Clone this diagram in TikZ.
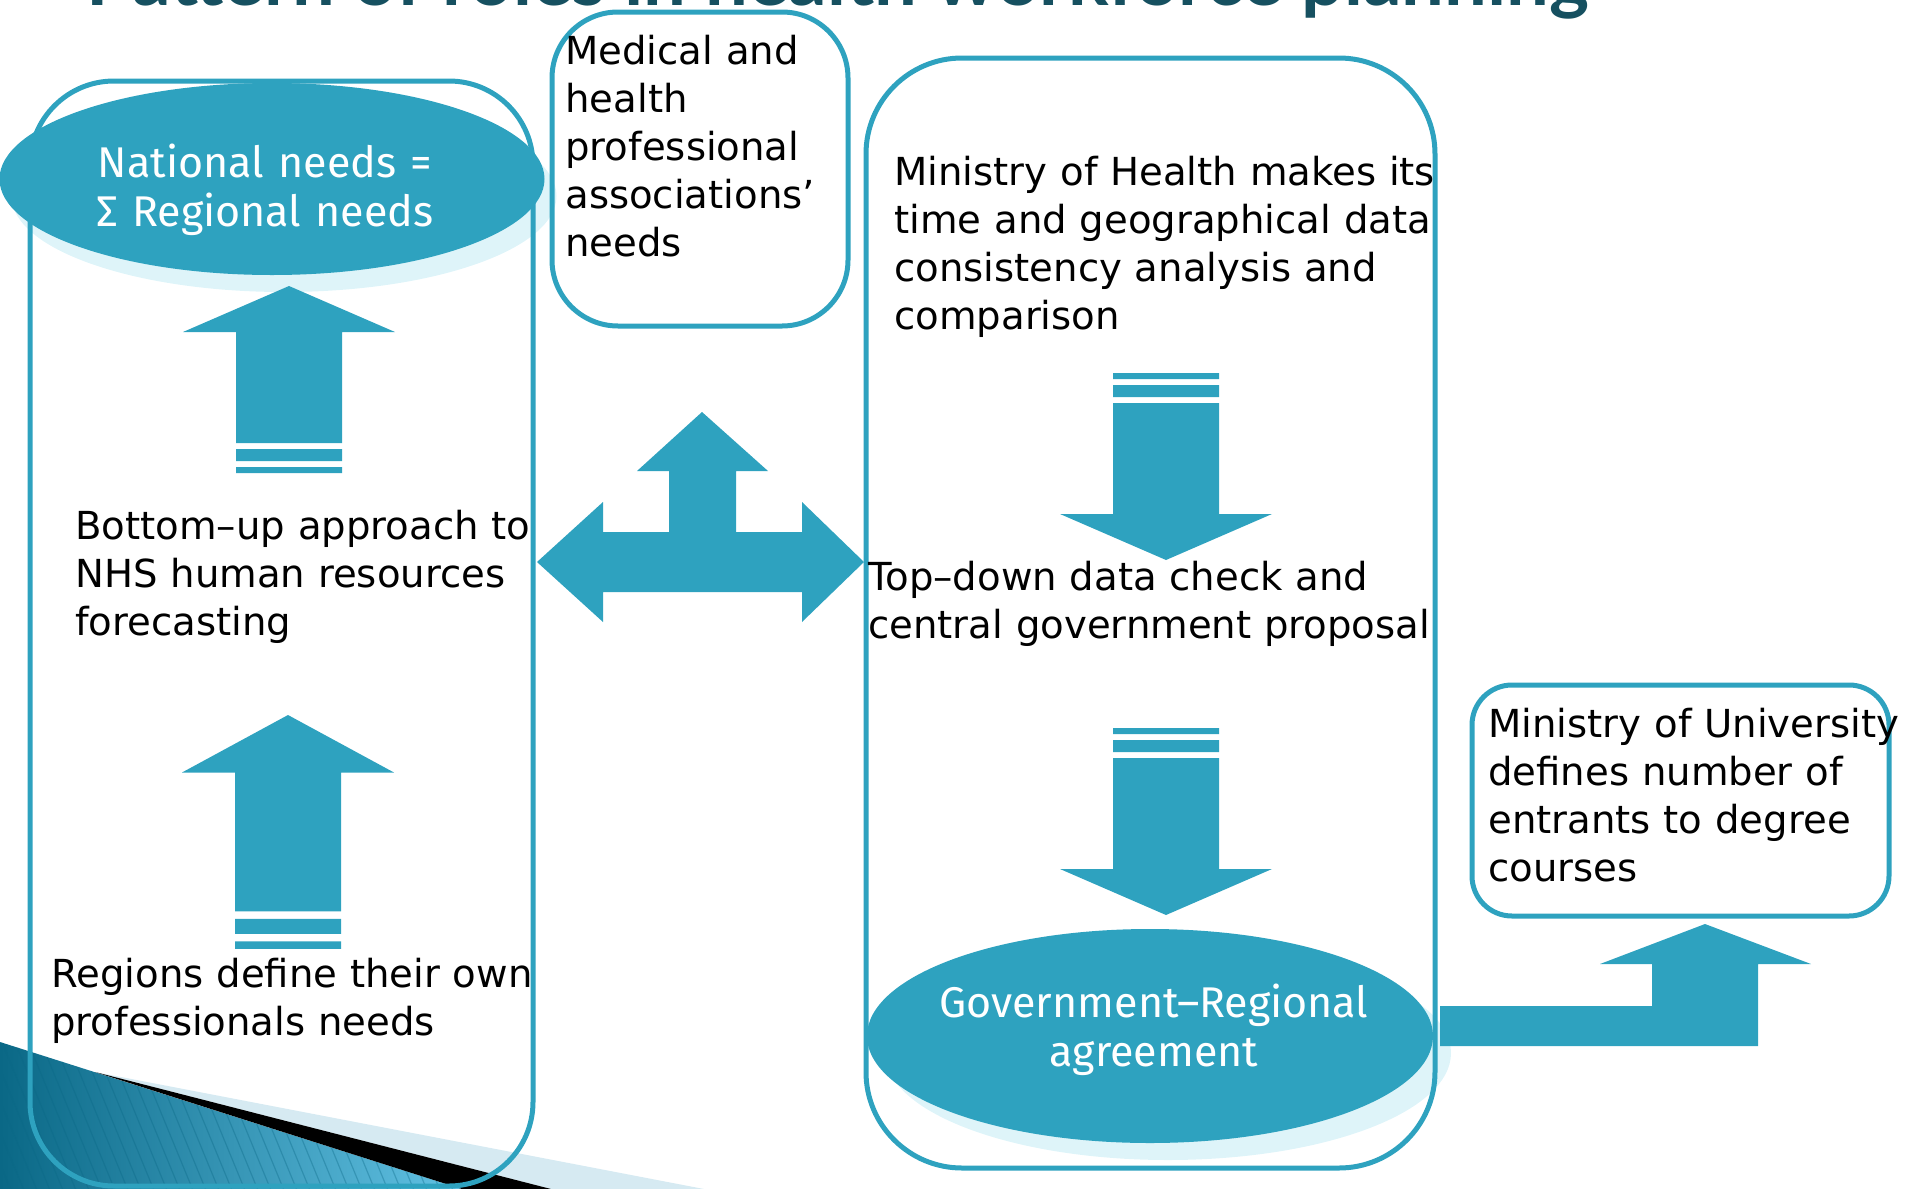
\documentclass[tikz,border=0pt]{standalone}
\usepackage{fontspec}
\setmainfont{DejaVu Sans}
\newfontfamily\bubblefont{Fira Sans}
\newfontfamily\headfont{Lato}
\usetikzlibrary{shapes.geometric,fit}

\definecolor{flowteal}{RGB}{46,162,191}
\definecolor{haze}{RGB}{222,244,249}
\definecolor{titleteal}{RGB}{22,80,96}
\definecolor{decodark}{RGB}{10,104,134}
\definecolor{decolight}{RGB}{98,194,228}
\definecolor{decoband}{RGB}{214,234,242}

\tikzset{
  panel/.style={draw=flowteal, line width=2.5pt, rounded corners=#1, inner sep=0pt},
  bubble/.style={ellipse, fill=flowteal, inner sep=0pt},
  glow/.style={ellipse, fill=haze, inner sep=0pt},
  bubbletext/.style={anchor=base, inner sep=0pt, text width=#1, align=center, text=white,
    font=\bubblefont\fontsize{21.5pt}{24.5pt}\selectfont},
  bodytext/.style={anchor=base west, inner sep=0pt, text width=300pt, align=left,
    font=\fontsize{19.3pt}{24pt}\selectfont},
  stripeup/.pic={
    \fill[flowteal] (0,0) -- (106,46) -- (53,46) -- (53,157) -- (-53,157)
      -- (-53,46) -- (-106,46) -- cycle;
    \fill[flowteal] (-53,163) rectangle (53,175) (-53,181) rectangle (53,187);
  }
}

\begin{document}
\begin{tikzpicture}[x=0.5pt, y=-0.5pt]
  \useasboundingbox (0,0) rectangle (1907,1189);
  \clip (0,0) rectangle (1907,1189);

  % corner swoosh
  \shade[left color=decodark, right color=decolight] (0,1042) -- (462,1189) -- (0,1189) -- cycle;
  \begin{scope}
    \clip (0,1042) -- (462,1189) -- (0,1189) -- cycle;
    \foreach \k in {-120,-107,...,480}
      \draw[decodark, opacity=.35, line width=.6pt] (\k,1030) -- ++(70,170);
  \end{scope}
  \fill[decoband] (95,1072) -- (704,1189) -- (551,1189) -- cycle;
  \fill[black] (95,1072) -- (551,1189) -- (462,1189) -- cycle;

  % title, cut off by the page edge
  \node[anchor=base west, inner sep=0pt, text=titleteal,
    font=\headfont\bfseries\fontsize{38pt}{44pt}\selectfont] (title) at (86,5)
    {Pattern of roles in health workforce planning};

  % shadows under the bubbles
  \node[glow, minimum width=272.5pt, minimum height=96pt] (natlglow) at (284,196) {};
  \node[glow, minimum width=283pt, minimum height=107pt] (agreeglow) at (1168,1053) {};

  % frames
  \node[panel=42pt, fit={(30,81) (533,1186)}] (regional) {};
  \node[panel=33pt, fit={(552,12) (848,326)}] (assoc) {};
  \node[panel=48pt, fit={(866,58) (1435,1168)}] (central) {};
  \node[panel=20pt, fit={(1472,685) (1889,916)}] (university) {};

  % bubbles
  \node[bubble, minimum width=272.5pt, minimum height=96pt] (natl) at (272,179) {};
  \node[bubble, minimum width=283pt, minimum height=107pt] (agree) at (1150,1036) {};
  \node[bubbletext=200pt] (natltext) at (265,177) {National needs =\\ Σ Regional needs};
  \node[bubbletext=260pt] (agreetext) at (1154,1017) {Government–Regional\\ agreement};

  % block arrows
  \pic at (289,286) {stripeup};
  \pic[yscale=1.25] at (288,715) {stripeup};
  \pic[yscale=-1] at (1166,560) {stripeup};
  \pic[yscale=-1] at (1166,915) {stripeup};
  \fill[flowteal] (537,562) -- (603,502) -- (603,532) -- (669,532) -- (669,471) -- (637,471)
    -- (702,412) -- (768,471) -- (736,471) -- (736,532) -- (802,532) -- (802,502) -- (864,562)
    -- (802,622) -- (802,592) -- (603,592) -- (603,622) -- cycle;
  \fill[flowteal] (1440,1006) -- (1652,1006) -- (1652,964) -- (1600,964) -- (1705,924)
    -- (1811,964) -- (1758,964) -- (1758,1046) -- (1440,1046) -- cycle;

  % texts
  \node[bodytext] (assoctext) at (565,64) {Medical and\\ health\\ professional\\ associations’\\ needs};
  \node[bodytext] (mohtext) at (894,185) {Ministry of Health makes its\\ time and geographical data\\ consistency analysis and\\ comparison};
  \node[bodytext] (topdown) at (868,590) {Top–down data check and\\ central government proposal};
  \node[bodytext] (bottomup) at (75,539) {Bottom–up approach to\\ NHS human resources\\ forecasting};
  \node[bodytext] (regions) at (51,987) {Regions define their own\\ professionals needs};
  \node[bodytext] (unitext) at (1488,737) {Ministry of University\\ defines number of\\ entrants to degree\\ courses};
\end{tikzpicture}
\end{document}
